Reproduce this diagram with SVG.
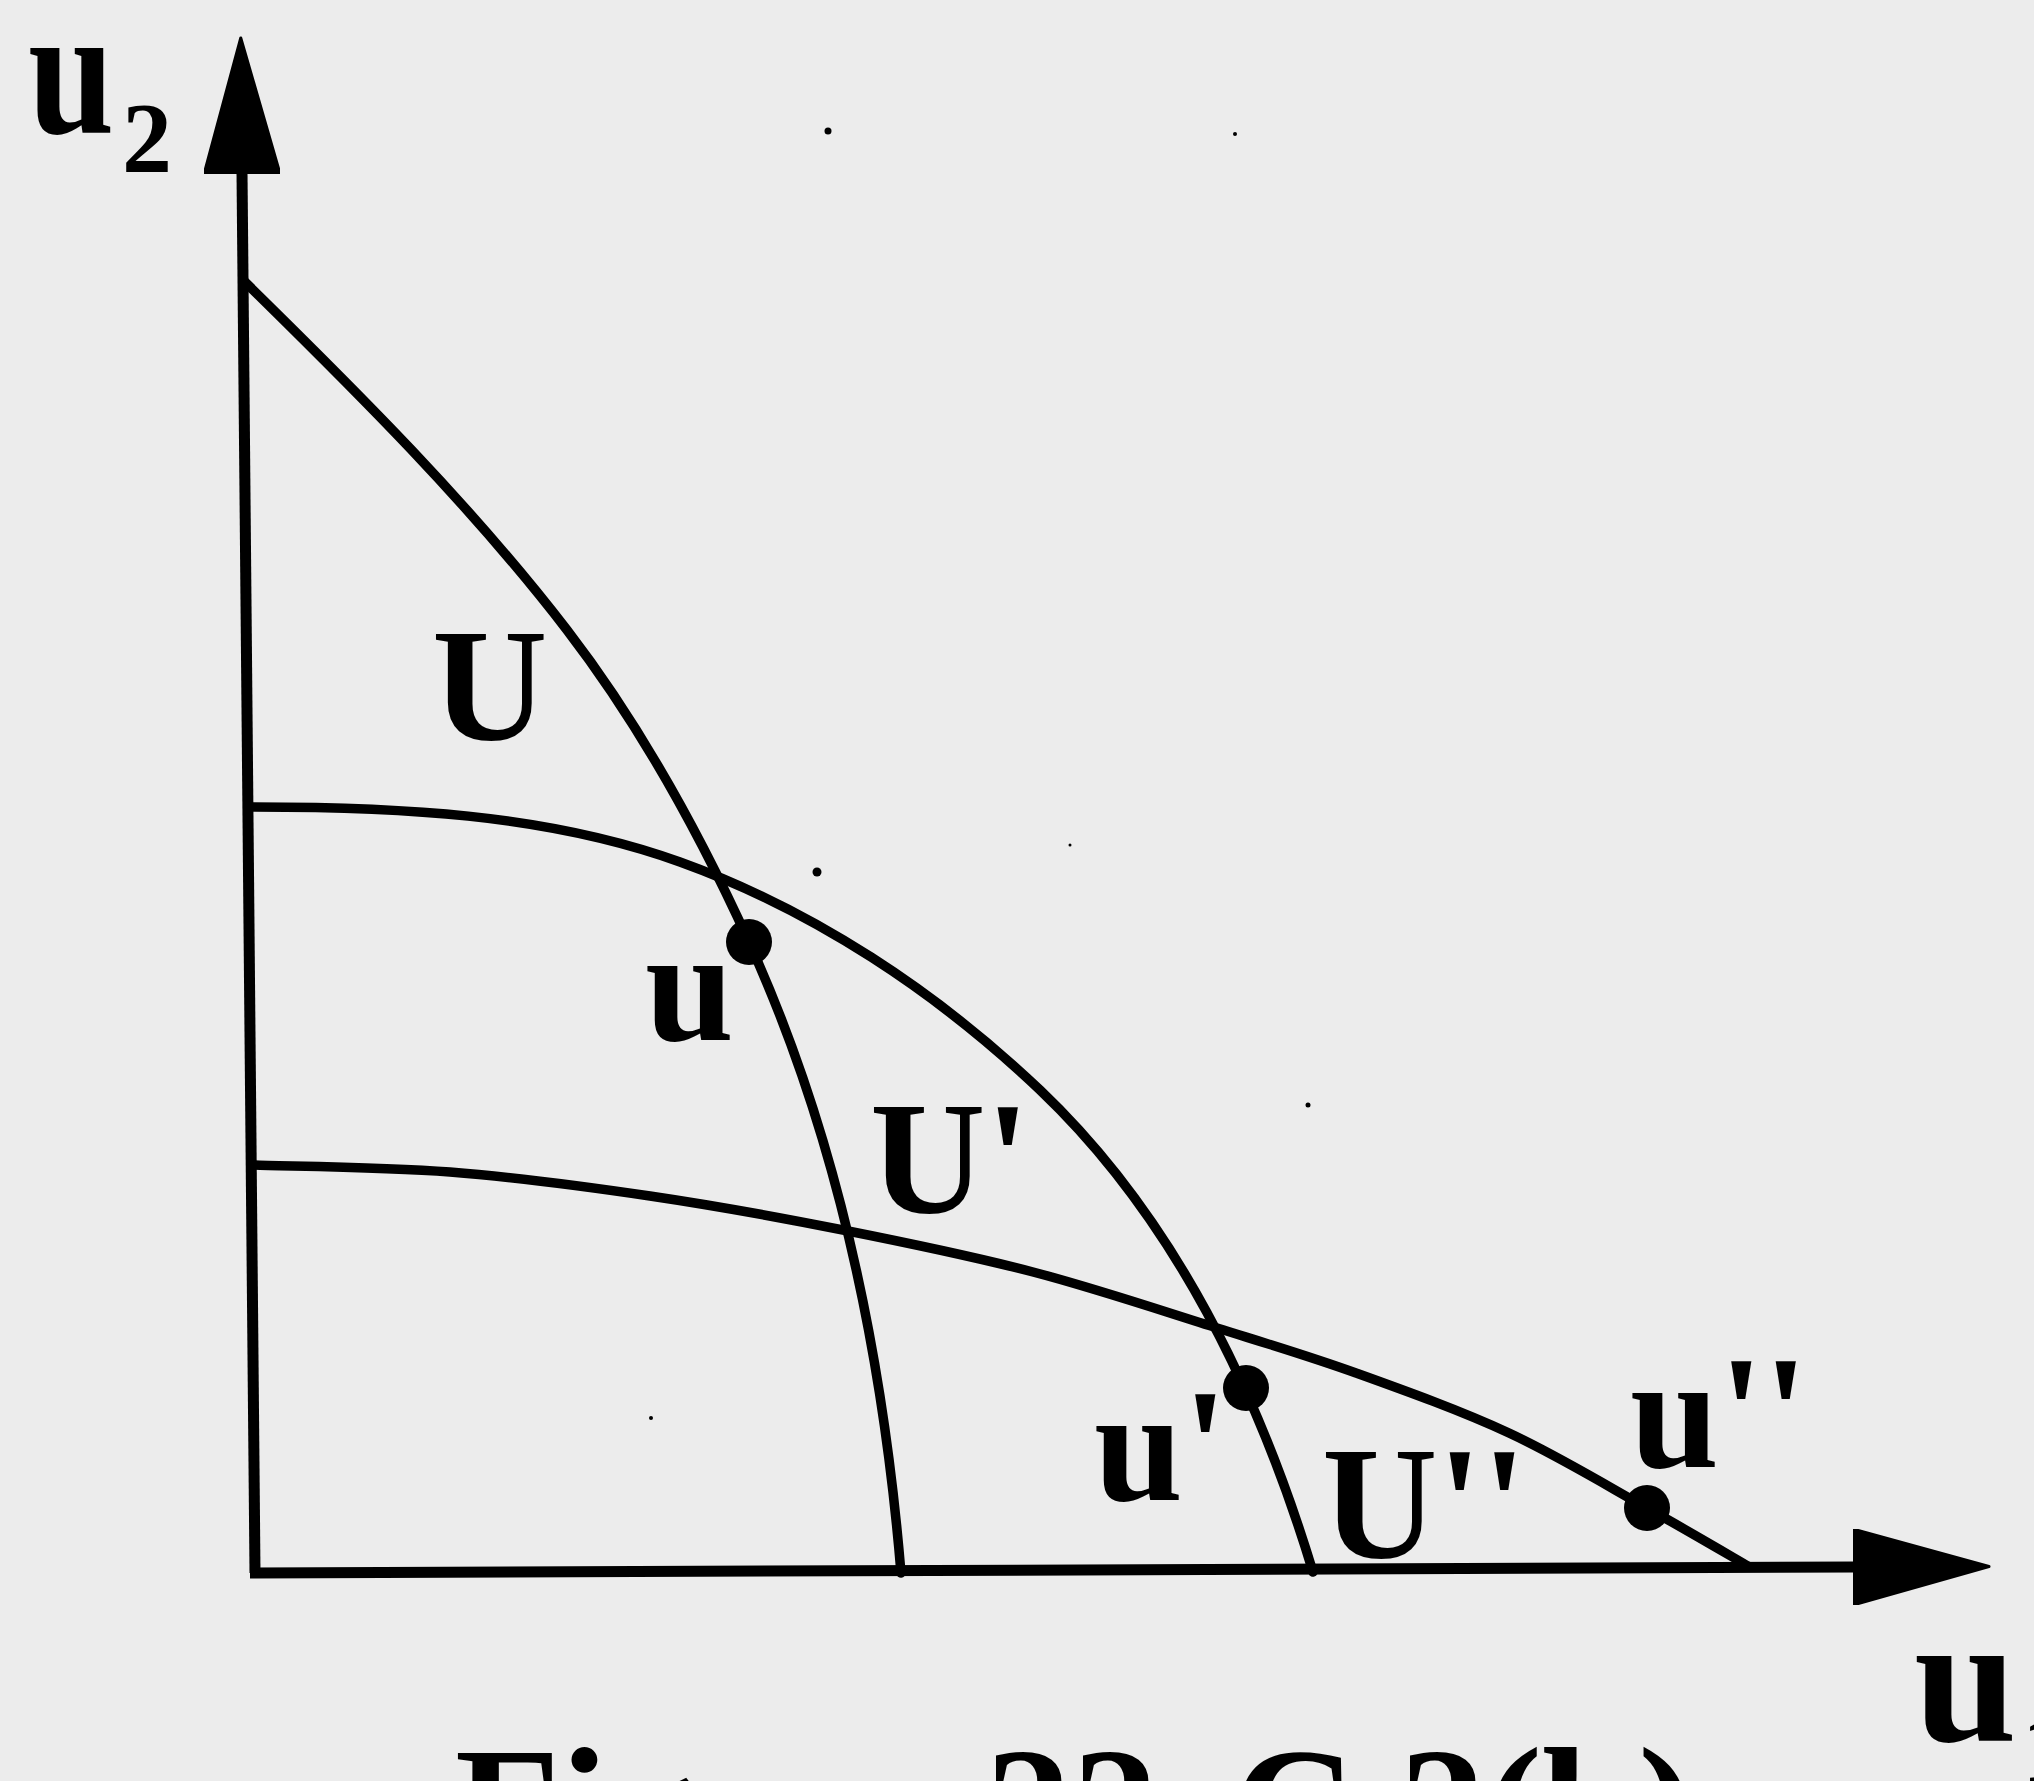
<svg xmlns="http://www.w3.org/2000/svg" width="2034" height="1781" viewBox="0 0 2034 1781">
<style>
.bg{fill:#ececec}
.axis{fill:none;stroke:#000;stroke-width:11;stroke-linecap:butt}
.curve{fill:none;stroke:#000;stroke-width:9.5;stroke-linecap:round;stroke-linejoin:round}
.dot{fill:#000}
.lbl{font-family:"Liberation Serif","Times New Roman",serif;font-weight:bold;fill:#000}
.big{font-size:160px}
.ax{font-size:185px}
.sub{font-size:100px}
.cap{font-family:"Liberation Serif","Times New Roman",serif;font-weight:bold;font-size:172px;fill:#000}
.speck{fill:#000}
</style>
<defs>
<marker id="arrow" markerUnits="userSpaceOnUse" markerWidth="140" markerHeight="76" viewBox="0 0 140 76" refX="2" refY="38" orient="auto">
<path d="M0,0 L136,38 L0,76 Z" fill="#000" stroke="#000" stroke-width="3" stroke-linejoin="round"/>
</marker>
</defs>
<rect class="bg" x="0" y="0" width="2034" height="1781"/>
<g id="connectors">
<line id="axis-u2" class="axis" x1="255" y1="1573" x2="242" y2="172" marker-end="url(#arrow)"/>
<line id="axis-u1" class="axis" x1="250" y1="1573" x2="1855" y2="1567" marker-end="url(#arrow)"/>
<path id="curve-U" class="curve" d="M243,280 C356.5,391.3 470,504 567,630 C640.2,725.2 699.3,832.8 749,942 C838.4,1138.6 883.1,1357.6 901,1573"/>
<path id="curve-U1" class="curve" d="M250,807 C394.5,807 544,813 680,862 C813.6,910.1 937,992.2 1040,1090 C1174,1217.5 1259.3,1395 1313,1572"/>
<path id="curve-U2" class="curve" d="M254,1165 C286.7,1166.2 384,1166.8 450,1172 C516,1177.2 584.5,1186.3 650,1196 C715.5,1205.7 779.2,1217.3 843,1230 C906.8,1242.7 970.7,1255.7 1033,1272 C1095.3,1288.3 1163.2,1311.2 1217,1328 C1270.8,1344.8 1307.3,1355.5 1356,1373 C1404.7,1390.5 1460.5,1410.5 1509,1433 C1557.5,1455.5 1607.2,1485.8 1647,1508 C1686.8,1530.2 1731.2,1556.3 1748,1566"/>
</g>
<g id="label-u2"><text class="lbl ax" transform="matrix(0.84 0 0 1 28 133)" x="0" y="0">u</text><text class="lbl sub" x="122" y="171">2</text></g>
<g id="label-u1"><text class="lbl ax" x="1914" y="1741">u</text><text class="lbl sub" x="2022" y="1782">1</text></g>
<g id="set-U"><text class="lbl big" x="432" y="740">U</text></g>
<g id="set-U1"><text class="lbl big" x="870" y="1213">U'</text></g>
<g id="set-U2"><text class="lbl big" x="1322" y="1558">U''</text></g>
<g id="point-u"><circle class="dot" cx="749" cy="942" r="23"/><text class="lbl big" x="645" y="1040">u</text></g>
<g id="point-u1"><circle class="dot" cx="1246" cy="1388" r="23"/><text class="lbl big" x="1094" y="1500">u'</text></g>
<g id="point-u2"><circle class="dot" cx="1647" cy="1508" r="23"/><text class="lbl big" x="1630" y="1467">u''</text></g>
<g id="caption"><text class="cap" x="455" y="1866">Figure <tspan x="985">2</tspan><tspan x="1072">2</tspan><tspan x="1175">.</tspan><tspan x="1232">C</tspan><tspan x="1356">.</tspan><tspan x="1399">2</tspan><tspan x="1485">(</tspan><tspan x="1542">b</tspan><tspan x="1638">)</tspan></text></g>
<g id="specks">
<circle class="speck" cx="828" cy="131" r="3.5"/>
<circle class="speck" cx="1235" cy="134" r="2"/>
<circle class="speck" cx="817" cy="872" r="4.5"/>
<circle class="speck" cx="1070" cy="845" r="1.5"/>
<circle class="speck" cx="1308" cy="1105" r="2.5"/>
<circle class="speck" cx="651" cy="1418" r="2"/>
</g>
</svg>
